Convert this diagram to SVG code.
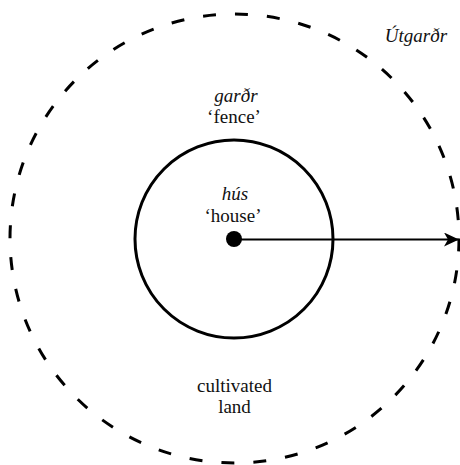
<svg xmlns="http://www.w3.org/2000/svg" width="460" height="465" viewBox="0 0 460 465">
<defs>
<marker id="ah" markerWidth="15" markerHeight="14" viewBox="0 0 15 14" refX="14.5" refY="7" orient="auto" markerUnits="userSpaceOnUse">
<path d="M0,0 L15,7 L0,14 L4,7 Z" fill="#000"/>
</marker>
</defs>
<rect width="460" height="465" fill="#fff"/>
<g font-family="Liberation Serif, Times New Roman, serif" font-size="19" fill="#111" text-anchor="middle">
<g id="outer">
<circle cx="234.5" cy="238.5" r="224.5" fill="none" stroke="#000" stroke-width="3" stroke-dasharray="13 19.06"/>
<text font-style="italic" x="416" y="42">Útgarðr</text>
</g>
<g id="fence">
<circle cx="234" cy="239" r="99" fill="none" stroke="#000" stroke-width="3"/>
<text font-style="italic" x="236" y="102">garðr</text>
<text x="234" y="123">‘fence’</text>
</g>
<g id="house">
<circle cx="234" cy="239" r="8" fill="#000"/>
<text font-style="italic" x="235" y="200">hús</text>
<text x="233" y="222">‘house’</text>
</g>
<g id="land">
<text x="234.5" y="392">cultivated</text>
<text x="234.5" y="413">land</text>
</g>
</g>
<g id="connectors">
<line x1="240" y1="239.5" x2="458.5" y2="239.5" stroke="#000" stroke-width="2" marker-end="url(#ah)"/>
</g>
</svg>
